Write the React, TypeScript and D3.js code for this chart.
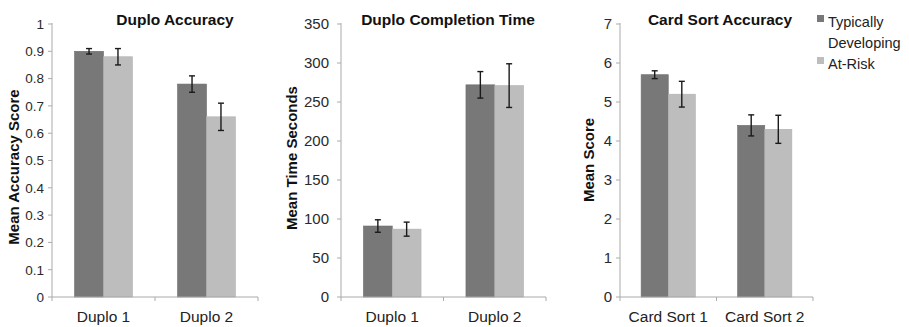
import * as d3 from 'd3';
import { type FC } from 'react';

// Series
const seriesNames = ['Typically Developing', 'At-Risk'];
const seriesColors = ['#787878', '#bdbdbd'];

// Duplo Accuracy
const accuracyCategories = ['Duplo 1', 'Duplo 2'];
const accuracyMeans = [
  [0.9, 0.88],
  [0.78, 0.66],
];
const accuracyErrors = [
  [0.01, 0.03],
  [0.03, 0.05],
];
const accuracyTicks = [0, 0.1, 0.2, 0.3, 0.4, 0.5, 0.6, 0.7, 0.8, 0.9, 1];

// Duplo Completion Time
const timeCategories = ['Duplo 1', 'Duplo 2'];
const timeMeans = [
  [91, 87],
  [272, 271],
];
const timeErrors = [
  [8, 9],
  [17, 28],
];
const timeTicks = [0, 50, 100, 150, 200, 250, 300, 350];

// Card Sort Accuracy
const cardCategories = ['Card Sort 1', 'Card Sort 2'];
const cardMeans = [
  [5.7, 5.2],
  [4.4, 4.3],
];
const cardErrors = [
  [0.1, 0.33],
  [0.27, 0.36],
];
const cardTicks = [0, 1, 2, 3, 4, 5, 6, 7];

const FONT = '"Liberation Sans", Arial, Helvetica, sans-serif';
const TOP = 24;
const BOTTOM = 297;

interface PanelProps {
  title: string;
  yLabel: string;
  categories: string[];
  means: number[][];
  errors: number[][];
  ticks: number[];
  left: number;
  right: number;
  titleX: number;
  labelX: number;
  labelY: number;
  tickGap: number;
  tickFont: number;
}

const Panel: FC<PanelProps> = ({
  title,
  yLabel,
  categories,
  means,
  errors,
  ticks,
  left,
  right,
  titleX,
  labelX,
  labelY,
  tickGap,
  tickFont,
}) => {
  const y = d3
    .scaleLinear()
    .domain([0, ticks[ticks.length - 1]])
    .range([BOTTOM, TOP]);
  const x0 = d3.scaleBand<string>().domain(categories).range([left, right]);
  const x1 = d3
    .scaleBand<number>()
    .domain(seriesNames.map((_, i) => i))
    .range([0, x0.bandwidth()])
    .paddingOuter(0.78);

  const bounds = [left, ...categories.map((c) => (x0(c) || 0) + x0.bandwidth())];

  return (
    <g>
      <text
        x={titleX}
        y={25}
        textAnchor="middle"
        fontFamily={FONT}
        fontWeight="bold"
        fontSize={15.5}
        fill="#111"
      >
        {title}
      </text>
      <text
        transform={`translate(${labelX},${labelY}) rotate(-90)`}
        textAnchor="middle"
        fontFamily={FONT}
        fontWeight="bold"
        fontSize={15}
        fill="#111"
      >
        {yLabel}
      </text>

      {/* y axis */}
      <line x1={left} x2={left} y1={TOP - 1} y2={BOTTOM} stroke="#aaa" />
      {ticks.map((t) => (
        <g key={t}>
          <line x1={left - 4} x2={left} y1={y(t)} y2={y(t)} stroke="#aaa" />
          <text
            x={left - tickGap}
            y={y(t)}
            dy="0.36em"
            textAnchor="end"
            fontFamily={FONT}
            fontSize={tickFont}
            fill="#2a2a2a"
          >
            {t}
          </text>
        </g>
      ))}

      {/* bars */}
      {categories.map((c, ci) =>
        seriesNames.map((_, si) => {
          const bx = (x0(c) || 0) + (x1(si) || 0);
          const v = means[ci][si];
          return (
            <rect
              key={`${c}-${si}`}
              x={bx}
              y={y(v)}
              width={x1.bandwidth()}
              height={BOTTOM - y(v)}
              fill={seriesColors[si]}
              stroke={si === 0 ? '#6c6c6c' : '#b0b0b0'}
              strokeWidth={0.6}
            />
          );
        }),
      )}

      {/* error bars */}
      {categories.map((c, ci) =>
        seriesNames.map((_, si) => {
          const cx = (x0(c) || 0) + (x1(si) || 0) + x1.bandwidth() / 2;
          const v = means[ci][si];
          const e = errors[ci][si];
          return (
            <g key={`err-${c}-${si}`} stroke="#1a1a1a" strokeWidth={1.4}>
              <line x1={cx} x2={cx} y1={y(v + e)} y2={y(v - e)} />
              <line x1={cx - 3} x2={cx + 3} y1={y(v + e)} y2={y(v + e)} />
              <line x1={cx - 3} x2={cx + 3} y1={y(v - e)} y2={y(v - e)} />
            </g>
          );
        }),
      )}

      {/* x axis */}
      <line x1={left} x2={right} y1={BOTTOM} y2={BOTTOM} stroke="#aaa" />
      {bounds.map((b) => (
        <line key={b} x1={b} x2={b} y1={BOTTOM} y2={BOTTOM + 4} stroke="#aaa" />
      ))}
      {categories.map((c) => (
        <text
          key={c}
          x={(x0(c) || 0) + x0.bandwidth() / 2}
          y={322}
          textAnchor="middle"
          fontFamily={FONT}
          fontSize={15.5}
          fill="#222"
        >
          {c}
        </text>
      ))}
    </g>
  );
};

const App: FC = () => {
  const legendLines = [['Typically', 'Developing'], ['At-Risk']];
  return (
    <div style={{ position: 'absolute', left: 0, top: 0 }}>
      <svg width={909} height={327} style={{ display: 'block', background: '#fff' }}>
        <Panel
          title="Duplo Accuracy"
          yLabel="Mean Accuracy Score"
          categories={accuracyCategories}
          means={accuracyMeans}
          errors={accuracyErrors}
          ticks={accuracyTicks}
          left={52}
          right={258}
          titleX={175}
          labelX={19}
          labelY={167}
          tickGap={8}
          tickFont={13.5}
        />
        <Panel
          title="Duplo Completion Time"
          yLabel="Mean Time Seconds"
          categories={timeCategories}
          means={timeMeans}
          errors={timeErrors}
          ticks={timeTicks}
          left={341}
          right={546}
          titleX={448}
          labelX={297}
          labelY={158}
          tickGap={12}
          tickFont={15}
        />
        <Panel
          title="Card Sort Accuracy"
          yLabel="Mean Score"
          categories={cardCategories}
          means={cardMeans}
          errors={cardErrors}
          ticks={cardTicks}
          left={620}
          right={813}
          titleX={720}
          labelX={594}
          labelY={160}
          tickGap={8}
          tickFont={15}
        />
        {/* legend */}
        <g fontFamily={FONT} fontSize={14.5} fill="#222">
          {seriesNames.map((name, i) => {
            const yTop = i === 0 ? 15 : 57;
            return (
              <g key={name}>
                <rect x={817} y={yTop} width={7} height={7} fill={seriesColors[i]} />
                {legendLines[i].map((ln, li) => (
                  <text key={ln} x={828} y={yTop + 12 + li * 21}>
                    {ln}
                  </text>
                ))}
              </g>
            );
          })}
        </g>
      </svg>
    </div>
  );
};

export default App;
